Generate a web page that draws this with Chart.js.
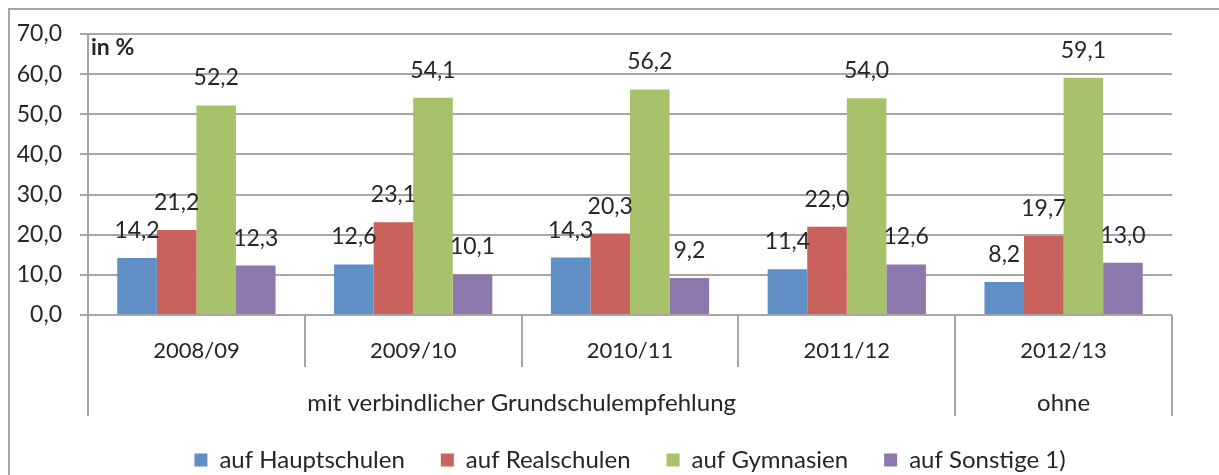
<!DOCTYPE html>
<html>
<head>
<meta charset="utf-8">
<script src="https://cdn.jsdelivr.net/npm/chart.js@4.4.1/dist/chart.umd.min.js"></script>
<style>
  html, body { margin: 0; padding: 0; background: #fff; }
  #wrap { width: 1219px; height: 475px; position: relative; }
</style>
</head>
<body>
<div id="wrap"><canvas id="chart"></canvas></div>
<script>
const categories = ['2008/09', '2009/10', '2010/11', '2011/12', '2012/13']
const seriesNames = ['auf Hauptschulen', 'auf Realschulen', 'auf Gymnasien', 'auf Sonstige 1)']
const hauptschulen = [14.2, 12.6, 14.3, 11.4, 8.2]
const realschulen = [21.2, 23.1, 20.3, 22.0, 19.7]
const gymnasien = [52.2, 54.1, 56.2, 54.0, 59.1]
const sonstige = [12.3, 10.1, 9.2, 12.6, 13.0]
const yMin = 0
const yMax = 70
const yStep = 10
const unitLabel = 'in %'
// second row under the years: first and last category index of each group
const groupLabels = ['mit verbindlicher Grundschulempfehlung', 'ohne']
const groupStart = [0, 4]
const groupEnd = [3, 4]

const colors = ['#5f8fc4', '#c9625c', '#a7c26b', '#8d77ad']
const gridColor = '#a6a6a6'
const textColor = '#262626'
const fontFamily = 'Lato, "Open Sans", sans-serif'

function fmt(v) {
  return v.toFixed(1).replace('.', ',')
}

// grey frame round the whole chart
const framePlugin = {
  id: 'frame',
  beforeDraw(chart) {
    const ctx = chart.ctx
    ctx.save()
    ctx.strokeStyle = gridColor
    ctx.lineWidth = 2
    ctx.beginPath()
    ctx.moveTo(9, chart.height)
    ctx.lineTo(9, 9)
    ctx.lineTo(chart.width, 9)
    ctx.stroke()
    ctx.restore()
  }
}

// numbers above the bars and the "in %" note
const valueLabels = {
  id: 'valueLabels',
  afterDatasetsDraw(chart) {
    const ctx = chart.ctx
    ctx.save()
    ctx.fillStyle = textColor
    ctx.font = '23px ' + fontFamily
    ctx.textAlign = 'center'
    ctx.textBaseline = 'alphabetic'
    chart.data.datasets.forEach((ds, i) => {
      chart.getDatasetMeta(i).data.forEach((bar, j) => {
        ctx.fillText(fmt(ds.data[j]), bar.x, bar.y - 20)
      })
    })
    const a = chart.chartArea
    ctx.font = 'bold 23px ' + fontFamily
    ctx.textAlign = 'left'
    ctx.fillText(unitLabel, a.left + 3, a.top + 21)
    ctx.restore()
  }
}

// separators between the years and the group row below them
const groupAxis = {
  id: 'groupAxis',
  afterDraw(chart) {
    const ctx = chart.ctx
    const x = chart.scales.x
    const a = chart.chartArea
    const step = x.getPixelForValue(1) - x.getPixelForValue(0)
    const edge = i => x.getPixelForValue(i) - step / 2
    const shortEnd = a.bottom + 52
    const longEnd = a.bottom + 101
    ctx.save()
    ctx.strokeStyle = gridColor
    ctx.lineWidth = 2
    for (let i = 0; i <= categories.length; i++) {
      const isGroupEdge = groupStart.includes(i) || groupEnd.includes(i - 1)
      const px = Math.round(edge(i))
      ctx.beginPath()
      ctx.moveTo(px, a.bottom)
      ctx.lineTo(px, isGroupEdge ? longEnd : shortEnd)
      ctx.stroke()
    }
    ctx.fillStyle = textColor
    ctx.font = '24px ' + fontFamily
    ctx.textAlign = 'center'
    ctx.textBaseline = 'middle'
    groupLabels.forEach((label, g) => {
      const cx = (edge(groupStart[g]) + edge(groupEnd[g] + 1)) / 2
      ctx.fillText(label, cx, a.bottom + 88)
    })
    ctx.restore()
  }
}

const data = {
  labels: categories,
  datasets: [hauptschulen, realschulen, gymnasien, sonstige].map((values, i) => ({
    label: seriesNames[i],
    data: values,
    backgroundColor: colors[i],
    borderWidth: 0,
    categoryPercentage: 0.73,
    barPercentage: 1.0
  }))
}

new Chart(document.getElementById('chart'), {
  type: 'bar',
  data: data,
  plugins: [framePlugin, valueLabels, groupAxis],
  options: {
    responsive: true,
    maintainAspectRatio: false,
    animation: false,
    layout: {
      padding: { left: 8, right: 47, top: 34, bottom: -7 }
    },
    plugins: {
      tooltip: { enabled: false },
      legend: {
        position: 'bottom',
        fullSize: false,
        labels: {
          boxWidth: 13,
          boxHeight: 13,
          padding: 36,
          color: textColor,
          font: { family: fontFamily, size: 24 }
        }
      }
    },
    scales: {
      x: {
        grid: { display: false },
        border: { display: false },
        ticks: {
          color: textColor,
          padding: 15,
          font: { family: fontFamily, size: 22 }
        },
        afterFit(scale) { scale.height = 97 }
      },
      y: {
        min: yMin,
        max: yMax,
        grid: { color: gridColor, lineWidth: 2, tickLength: 8 },
        border: { color: gridColor, width: 2 },
        ticks: {
          stepSize: yStep,
          color: textColor,
          padding: 18,
          font: { family: fontFamily, size: 23 },
          callback: v => fmt(v)
        },
        afterFit(scale) { scale.width = 80 }
      }
    }
  }
})
</script>
</body>
</html>
